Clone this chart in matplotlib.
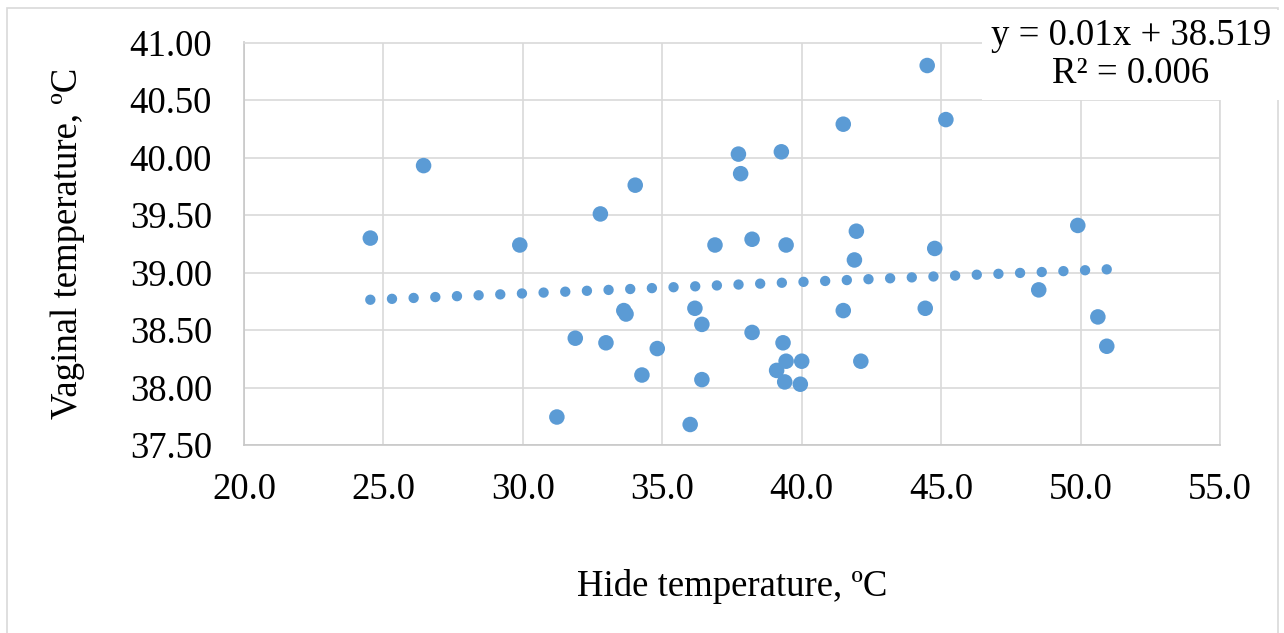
import numpy as np
import matplotlib
matplotlib.use("Agg")
import matplotlib.pyplot as plt
from matplotlib.patches import Rectangle

# Hide vs vaginal temperature
hide = np.array([24.53, 26.44, 29.89, 31.22, 31.88, 32.78, 32.98, 33.62, 33.70, 34.03,
                 34.27, 34.82, 36.00, 36.17, 36.42, 36.42, 36.89, 37.73, 37.81, 38.22,
                 38.22, 39.27, 39.33, 39.10, 39.44, 39.39, 39.44, 40.00, 39.95, 41.49,
                 41.49, 41.89, 41.96, 42.12, 44.50, 44.43, 44.77, 45.17, 48.50, 49.90,
                 50.62, 50.94])
vaginal = np.array([39.30, 39.93, 39.24, 37.745, 38.43, 39.51, 38.39, 38.67, 38.64, 39.76,
                    38.11, 38.34, 37.68, 38.69, 38.55, 38.07, 39.24, 40.03, 39.86, 39.29,
                    38.48, 40.05, 38.39, 38.15, 38.23, 38.05, 39.24, 38.23, 38.03, 40.29,
                    38.67, 39.11, 39.36, 38.23, 40.80, 38.69, 39.21, 40.33, 38.85, 39.41,
                    38.615, 38.36])

# trendline as printed on the chart
slope = 0.01
intercept = 38.519
r2 = 0.006

xticks = [20, 25, 30, 35, 40, 45, 50, 55]
yticks = [37.5, 38.0, 38.5, 39.0, 39.5, 40.0, 40.5, 41.0]

plt.rcParams['font.family'] = ['Liberation Serif', 'DejaVu Serif']

W, H = 1284, 633
fig = plt.figure(figsize=(W / 100, H / 100), dpi=100)
ax = fig.add_axes([244 / W, 1 - 445.2 / H, 976 / W, 402.7 / H])

blue = '#5B9BD5'
grid = '#D9D9D9'

ax.scatter(hide, vaginal, s=125, color=blue, edgecolors='none', zorder=3)

xs = np.array([hide.min(), hide.max()])
ax.plot(xs, slope * xs + intercept, color=blue, lw=7.5,
        linestyle=(0, (0.001, 2.08)), dash_capstyle='round', zorder=2)

ax.set_xlim(20, 55)
ax.set_ylim(37.5, 41)
ax.set_xticks(xticks)
ax.set_yticks(yticks)
ax.set_xticklabels([f'{v:.1f}' for v in xticks])
ax.set_yticklabels([f'{v:.2f}' for v in yticks])
ax.tick_params(length=0, labelsize=26.5)
ax.tick_params(axis='y', pad=23)
ax.tick_params(axis='x', pad=20)

ax.grid(True, color=grid, lw=1.2)
ax.set_axisbelow(True)
for side in ['top', 'right']:
    ax.spines[side].set_color(grid)
    ax.spines[side].set_linewidth(1.2)
for side in ['left', 'bottom']:
    ax.spines[side].set_color('#C8C8C8')
    ax.spines[side].set_linewidth(1.2)

ax.set_xlabel('Hide temperature, ºC', fontsize=26.5, labelpad=44)
ax.set_ylabel('Vaginal temperature, ºC', fontsize=26.5, labelpad=32)

# equation label with white background
fig.text(1131 / W, 1 - 55 / H, f'y = {slope}x + {intercept}\nR² = {r2}',
         fontsize=26.5, ha='center', va='center', multialignment='center',
         linespacing=1.12,
         bbox=dict(boxstyle='square,pad=0.25', facecolor='white', edgecolor='none'))

# chart outer border
fig.patches.append(Rectangle((7 / W, -0.01), 1271 / W, 1.01 - 8 / H,
                             transform=fig.transFigure, fill=False,
                             edgecolor=grid, lw=1.2))

fig.savefig('out.png', dpi=100)
